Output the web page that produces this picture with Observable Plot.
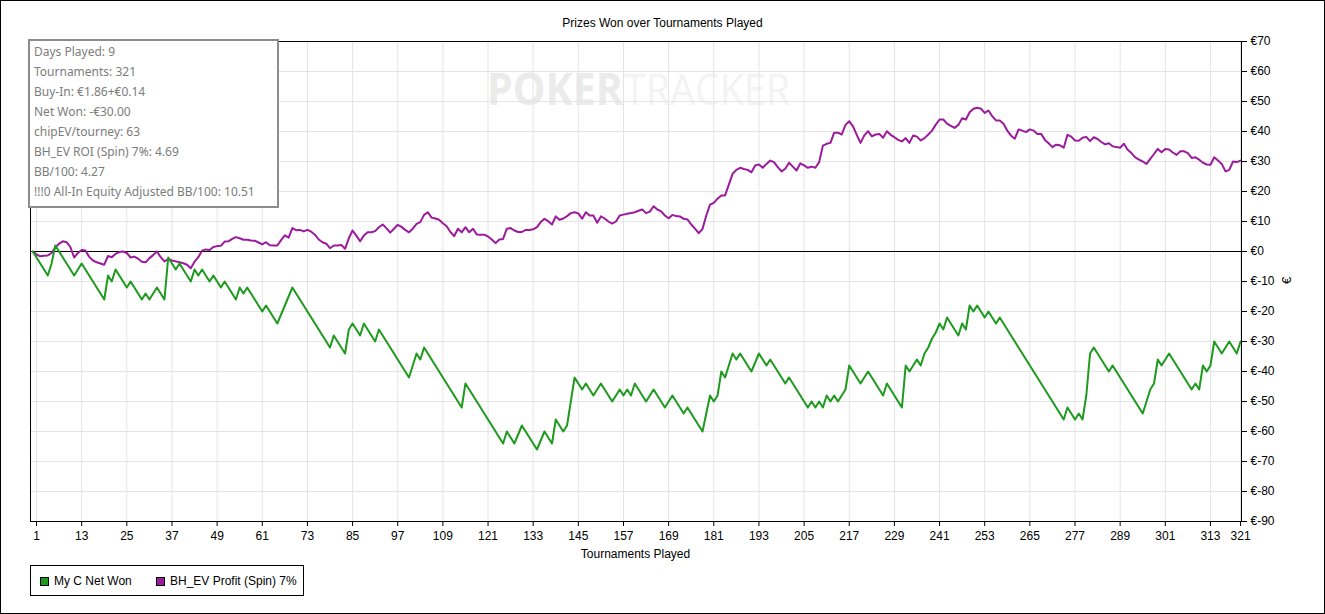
<!DOCTYPE html>
<html>
<head>
<meta charset="utf-8">
<script src="https://cdn.jsdelivr.net/npm/d3@7"></script>
<script src="https://cdn.jsdelivr.net/npm/@observablehq/plot@0.6"></script>
<style>
  body { margin: 0; background: #fff; }
  #fig { position: relative; width: 1325px; height: 614px; background: #fff; overflow: hidden;
         font-family: "Liberation Sans", Arial, sans-serif; color: #000; }
  #outline { position: absolute; left: 0; top: 0; width: 1325px; height: 614px; box-sizing: border-box;
             border: 1px solid #000; z-index: 10; pointer-events: none; }
  #watermark { position: absolute; left: 0; top: 0; z-index: 0; }
  #chart { position: absolute; left: 0; top: 0; z-index: 1; }
  #title { position: absolute; left: 0; width: 1325px; top: 16px; text-align: center; font-size: 12px; z-index: 2; }
  #info { position: absolute; left: 28px; top: 39px; width: 251px; height: 169px; box-sizing: border-box;
          border: 2px solid #8c8c8c; background: #fff; color: #7c7c7c; font-size: 12px; line-height: 20px;
          padding-left: 4px; padding-top: 1px; z-index: 3; font-family: "Noto Sans", "Liberation Sans", sans-serif; }
  #xlabel { position: absolute; left: 30px; width: 1211px; top: 547px; text-align: center; font-size: 12px; z-index: 2; }
  #ylabel { position: absolute; left: 1283px; top: 273px; font-size: 13px; transform: rotate(-90deg); z-index: 2; }
  #legend { position: absolute; left: 30px; top: 565px; width: 274px; height: 31px; box-sizing: border-box;
            border: 1px solid #000; background: #fff; font-size: 12px; z-index: 2; }
  .item { position: absolute; top: 8px; white-space: nowrap; line-height: 14px; }
  .sw { display: inline-block; width: 7px; height: 7px; border: 1px solid #000; vertical-align: -1px; margin-right: 5px; }
</style>
</head>
<body>
<div id="fig">
  <svg id="watermark" width="1325" height="614">
    <text x="487" y="105" font-family="Open Sans, sans-serif" font-weight="bold" font-size="44" fill="#ebebeb" textLength="136" lengthAdjust="spacingAndGlyphs">POKER</text>
    <text x="624" y="105" font-family="Open Sans, sans-serif" font-size="44" fill="#f3f3f3" textLength="166" lengthAdjust="spacingAndGlyphs">TRACKER</text>
  </svg>
  <div id="chart"></div>
  <div id="title">Prizes Won over Tournaments Played</div>
  <div id="info"></div>
  <div id="xlabel">Tournaments Played</div>
  <div id="ylabel">€</div>
  <div id="legend"></div>
  <div id="outline"></div>
</div>
<script>
// ---- data (tournament index 0..321) ----
const netWon = [
  0,-2,-4,-6,-8,-4,2,0,-2,-4,
  -6,-8,-6,-4,-6,-8,-10,-12,-14,-16,
  -8,-10,-6,-8,-10,-12,-10,-12,-14,-16,
  -14,-16,-14,-12,-14,-16,-2,-4,-6,-4,
  -6,-8,-10,-6,-8,-6,-8,-10,-8,-10,
  -12,-10,-12,-14,-16,-12,-14,-12,-14,-16,
  -18,-20,-18,-20,-22,-24,-21,-18,-15,-12,
  -14,-16,-18,-20,-22,-24,-26,-28,-30,-32,
  -28,-30,-32,-34,-26,-24,-26,-28,-24,-26,
  -28,-30,-26,-28,-30,-32,-34,-36,-38,-40,
  -42,-38,-34,-36,-32,-34,-36,-38,-40,-42,
  -44,-46,-48,-50,-52,-44,-46,-48,-50,-52,
  -54,-56,-58,-60,-62,-64,-60,-62,-64,-61,
  -58,-60,-62,-64,-66,-63,-60,-62,-64,-56,
  -58,-60,-58,-50,-42,-44,-46,-44,-46,-48,
  -46,-44,-46,-48,-50,-48,-46,-48,-46,-48,
  -44,-46,-48,-50,-48,-46,-48,-50,-52,-50,
  -48,-50,-52,-54,-52,-54,-56,-58,-60,-54,
  -48,-50,-48,-40,-42,-38,-34,-36,-34,-36,
  -38,-40,-37,-34,-36,-38,-36,-38,-40,-42,
  -44,-42,-44,-46,-48,-50,-52,-50,-52,-50,
  -52,-48,-50,-48,-50,-48,-46,-38,-40,-42,
  -44,-42,-40,-42,-44,-46,-48,-44,-46,-48,
  -50,-52,-38,-40,-38,-36,-38,-34,-32,-29,
  -27,-24,-26,-22,-24,-26,-28,-24,-26,-18,
  -20,-18,-20,-22,-20,-22,-24,-22,-24,-26,
  -28,-30,-32,-34,-36,-38,-40,-42,-44,-46,
  -48,-50,-52,-54,-56,-52,-54,-56,-54,-56,
  -48,-34,-32,-34,-36,-38,-40,-38,-40,-42,
  -44,-46,-48,-50,-52,-54,-50,-46,-44,-36,
  -38,-36,-34,-36,-38,-40,-42,-44,-46,-44,
  -46,-38,-40,-38,-30,-32,-34,-32,-30,-32,
  -34,-30
];
const evProfit = [
  0,-1,-1.6,-1.4,-1.3,-0.5,1.4,2.6,3.4,3.1,
  1.5,-2,-0.5,0.5,0.3,-1.8,-3,-3.6,-4,-4.4,
  -1.5,-1.9,-0.8,-0.2,0,-0.5,-2,-1.7,-2.4,-3.4,
  -3.6,-2.2,-1.2,0,-1.9,-3.3,-2.5,-3,-3.3,-3.6,
  -3.9,-4.4,-5.6,-3.4,-1.9,0.3,0.7,0.5,1.5,1.8,
  1.9,3.3,3.4,4.2,4.8,4.4,3.9,3.9,3.7,3.6,
  3.0,2.4,3.1,2.1,2.0,2.0,3.8,5.4,4.6,7.8,
  7.1,7.2,6.7,7.2,6.6,5.6,4.0,3.1,2.6,1.1,
  2.0,2.0,2.2,0.9,4.4,7.0,5.3,3.4,5.3,6.4,
  6.4,6.8,8.1,9.0,7.8,6.3,7.6,8.9,8.2,7.2,
  6.4,7.6,9.2,9.8,12.2,13.1,11.3,11.0,10.6,9.4,
  8.4,6.5,5.1,7.6,6.4,8.1,6.4,7.6,5.7,5.6,
  5.6,5.0,4.0,2.8,4.0,4.2,7.6,7.8,7.0,6.5,
  6.5,7.2,7.2,7.4,8.1,9.8,10.9,10.1,9.0,11.7,
  10.6,11.0,11.8,12.8,13.1,12.7,10.9,13.1,12.0,12.0,
  9.6,11.7,11.0,10.0,9.3,10.0,12.0,12.3,12.6,12.8,
  13.1,13.6,14.0,12.8,13.3,15.1,14.0,13.4,12.0,11.1,
  12.2,11.8,11.7,10.9,10.7,9.0,7.6,6.1,7.5,12.0,
  15.6,16.2,17.6,18.7,18.7,22.3,25.9,27.2,27.9,27.5,
  27.2,26.4,28.7,29.0,27.9,29.2,30.3,29.8,28.1,26.7,
  27.6,29.6,28.3,27.0,29.4,28.7,27.9,28.3,27.9,29.8,
  35.3,35.9,36.2,39.6,39.6,39.0,42.2,43.4,41.7,38.9,
  36.2,38.7,40.1,38.4,39.0,39.2,37.9,40.1,38.9,38.1,
  37.2,36.7,37.8,36.2,38.7,38.3,37.0,37.8,39.0,40.3,
  42.3,44.0,44.0,42.6,41.9,41.2,42.2,44.4,44.0,46.4,
  47.6,47.9,47.6,46.2,47.0,45.1,43.7,43.7,42.6,40.3,
  38.6,37.6,40.7,40.3,39.8,40.7,40.3,39.2,39.2,37.2,
  36.1,34.8,35.6,35.4,34.6,38.9,38.3,37.0,36.9,37.9,
  38.2,36.8,38.1,37.5,36.5,35.7,36.1,35.1,34.8,34.6,
  35.9,33.9,32.8,31.4,30.6,30.0,29.2,30.9,32.5,34.2,
  33.1,34.2,34.0,33.0,32.2,33.4,33.4,32.8,31.2,31.4,
  30.6,29.6,29.0,28.9,31.4,30.3,29.2,26.7,27.2,30.0,
  29.8,30.3
];
const xTicks = [1,13,25,37,49,61,73,85,97,109,121,133,145,157,169,181,193,205,217,229,241,253,265,277,289,301,313,321];
const yTicks = [70,60,50,40,30,20,10,0,-10,-20,-30,-40,-50,-60,-70,-80,-90];
const seriesNames = ["My C Net Won", "BH_EV Profit (Spin) 7%"];
const seriesColors = ["#1e9a1e", "#9c1a9c"];
const infoLines = [
  "Days Played: 9",
  "Tournaments: 321",
  "Buy-In: €1.86+€0.14",
  "Net Won: -€30.00",
  "chipEV/tourney: 63",
  "BH_EV ROI (Spin) 7%: 4.69",
  "BB/100: 4.27",
  "!!!0 All-In Equity Adjusted BB/100: 10.51"
];

const netRows = netWon.map((v, i) => ({t: i, v}));
const evRows = evProfit.map((v, i) => ({t: i, v}));
const fmtY = d => d < 0 ? "€-" + (-d) : "€" + d;

const chart = Plot.plot({
  width: 1325,
  height: 614,
  marginLeft: 30,
  marginRight: 84,
  marginTop: 41,
  marginBottom: 93,
  style: {background: "transparent", fontFamily: "'Liberation Sans', Arial, sans-serif", fontSize: "12px", color: "#000"},
  x: {domain: [-0.6, 321.25]},
  y: {domain: [-90, 70]},
  marks: [
    Plot.gridX(xTicks, {stroke: "#e4e4e4", strokeOpacity: 1}),
    Plot.gridY(yTicks, {stroke: "#e4e4e4", strokeOpacity: 1}),
    Plot.ruleY([0], {stroke: "#000", strokeWidth: 1, strokeOpacity: 1}),
    Plot.line(evRows, {x: "t", y: "v", stroke: seriesColors[1], strokeWidth: 2}),
    Plot.line(netRows, {x: "t", y: "v", stroke: seriesColors[0], strokeWidth: 2}),
    Plot.frame({stroke: "#000"}),
    Plot.axisY(yTicks, {anchor: "right", tickSize: 5, tickPadding: 4, tickFormat: fmtY, label: null, fontSize: 12}),
    Plot.axisX(xTicks, {anchor: "bottom", tickSize: 5, tickPadding: 5, label: null, fontSize: 12})
  ]
});
document.getElementById("chart").appendChild(chart);

document.getElementById("info").innerHTML = infoLines.map(s => `<div>${s}</div>`).join("");
const leg = document.getElementById("legend");
const legX = [9, 125];
seriesNames.forEach((name, i) => {
  const d = document.createElement("div");
  d.className = "item";
  d.style.left = legX[i] + "px";
  d.innerHTML = `<span class="sw" style="background:${seriesColors[i]}"></span>${name}`;
  leg.appendChild(d);
});
</script>
</body>
</html>
